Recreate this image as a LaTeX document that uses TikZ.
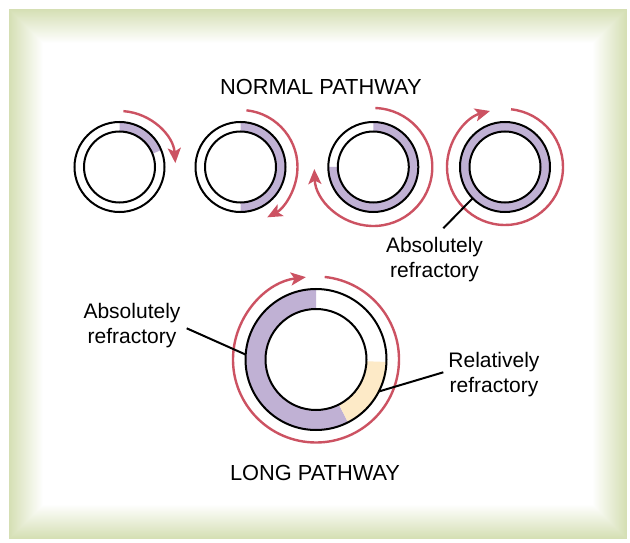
\documentclass[tikz,border=0pt]{standalone}
\usepackage{fontspec}
\setmainfont{Liberation Sans}
\usetikzlibrary{calc,arrows.meta}
\definecolor{framegreen}{RGB}{213,223,180}
\definecolor{purp}{RGB}{192,177,212}
\definecolor{yel}{RGB}{253,234,199}
\definecolor{arr}{RGB}{204,82,98}
\newcommand\annsec[6]{%
  \fill[#6] ($(#1)+(#2:#5)$) arc[start angle=#2,end angle=#3,radius=#5]
    -- ($(#1)+(#3:#4)$) arc[start angle=#3,end angle=#2,radius=#4] -- cycle;}
\begin{document}
\begin{tikzpicture}[x=1pt,y=1pt,
  ring/.style={circle,draw=black,line width=2pt,minimum size=#1,inner sep=0pt,outer sep=0pt},
  redarc/.style={draw=arr,line width=2.4pt,-{Stealth[length=15pt,width=13pt,inset=3.5pt]}},
  lbl/.style={align=center,font=\fontsize{21}{24.5}\selectfont,inner sep=0pt},
  ttl/.style={font=\fontsize{21.8}{26}\selectfont,inner sep=0pt},
  lead/.style={line width=2pt}]
\useasboundingbox (0,0) rectangle (630,542);
% frame with inward fading gradient
\fill[white] (0,0) rectangle (630,542);
\foreach \i in {0,...,34}{
  \pgfmathsetmacro\p{100*(1-\i/34)}
  \fill[framegreen!\p!white] (9+\i,3+\i) rectangle (627-\i,533-\i);
}
% centres
\coordinate (c1) at (119.5,375);
\coordinate (c2) at (240.5,375);
\coordinate (c3) at (373.3,375);
\coordinate (c4) at (505,375);
\coordinate (cL) at (316,182.5);
% refractory fills
\annsec{c1}{90}{22}{35.5}{45}{purp}
\annsec{c2}{90}{-90}{35.5}{45}{purp}
\annsec{c3}{90}{-180}{35.5}{45}{purp}
\fill[purp,even odd rule] (c4) circle (45) (c4) circle (35.5);
\annsec{cL}{90}{297}{50.5}{70.5}{purp}
\annsec{cL}{297}{358}{50.5}{70.5}{yel}
% rings
\node[ring=90pt] (r1) at (c1) {};
\node[ring=71pt] (r1i) at (c1) {};
\node[ring=90pt] (r2) at (c2) {};
\node[ring=71pt] (r2i) at (c2) {};
\node[ring=90pt] (r3) at (c3) {};
\node[ring=71pt] (r3i) at (c3) {};
\node[ring=90pt] (r4) at (c4) {};
\node[ring=71pt] (r4i) at (c4) {};
\node[ring=141pt] (rL) at (cL) {};
\node[ring=101pt] (rLi) at (cL) {};
% red arrows
\draw[redarc] ($(c1)+(86:56)$) arc[start angle=86,end angle=4,radius=56];
\draw[redarc] ($(c2)+(84:57)$) arc[start angle=84,end angle=-62,radius=57];
\draw[redarc] ($(c3)+(88:59)$) arc[start angle=88,end angle=-178,radius=59];
\draw[redarc] ($(c4)+(84:58)$) arc[start angle=84,end angle=-255,radius=58];
\draw[redarc] ($(cL)+(84:83)$) arc[start angle=84,end angle=-263,radius=83];
% labels
\node[ttl] (title1) at (320.8,455.3) {NORMAL PATHWAY};
\node[ttl] (title2) at (315,68.7) {LONG PATHWAY};
\node[lbl] (lab4) at (434.5,282.5) {Absolutely\\refractory};
\node[lbl] (labA) at (132,216.6) {Absolutely\\refractory};
\node[lbl] (labR) at (494,167.5) {Relatively\\refractory};
\coordinate (t4) at (443.3,313.7);
\coordinate (tA) at (186.7,213.7);
\coordinate (tR) at (443.3,169.7);
\draw[lead] (r4.224) -- (t4);
\draw[lead] (rL.176) -- (tA);
\draw[lead] (rL.-27) -- (tR);
\end{tikzpicture}
\end{document}
